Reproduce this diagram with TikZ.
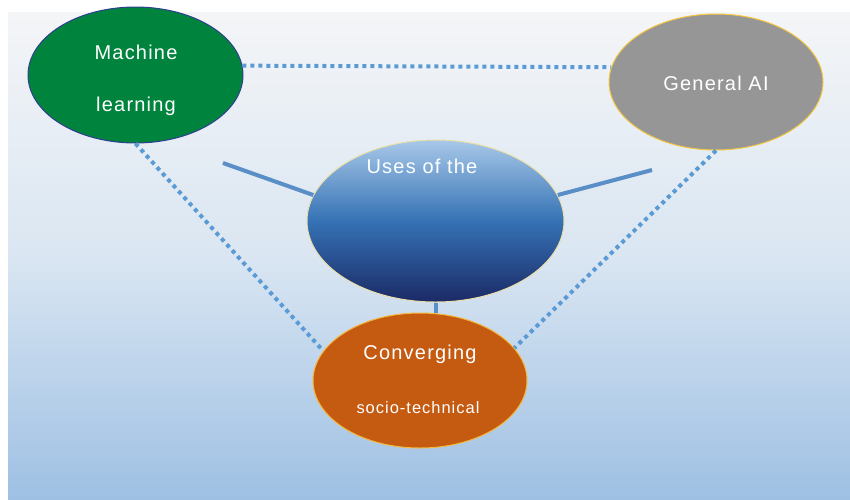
\documentclass[tikz,border=0pt]{standalone}
\usepackage{fontspec}
\setmainfont{Liberation Sans}[LetterSpace=6]
\usetikzlibrary{shapes.geometric}

\definecolor{bgtop}{HTML}{F4F5F7}
\definecolor{bgmid}{HTML}{DAE6F2}
\definecolor{bgbot}{HTML}{9EC0E3}
\definecolor{mlgreen}{HTML}{00843D}
\definecolor{mledge}{HTML}{2F3F8F}
\definecolor{gagray}{HTML}{969696}
\definecolor{gaedge}{HTML}{F5C842}
\definecolor{convorange}{HTML}{C55A11}
\definecolor{convedge}{HTML}{F5B83D}
\definecolor{usetop}{HTML}{A8C8E8}
\definecolor{usemid}{HTML}{3572B5}
\definecolor{usebot}{HTML}{1B2A66}
\definecolor{useedge}{HTML}{EADFA8}
\definecolor{linkblue}{HTML}{5B9BD5}
\definecolor{spokeblue}{HTML}{5A8EC6}

\tikzset{
  bubble/.style={ellipse, inner sep=0pt, line width=1pt},
  label text/.style={text=white, font=\fontsize{20}{22}\selectfont, inner sep=0pt},
  small text/.style={text=white, font=\fontsize{16.5}{18}\selectfont, inner sep=0pt},
  dotlink/.style={draw=linkblue, line width=4pt, dash pattern=on 4pt off 4pt},
  spoke/.style={draw=spokeblue, line width=4pt}
}

\begin{document}
\begin{tikzpicture}[x=1pt, y=-1pt]
  \useasboundingbox (0,0) rectangle (850,499);
  % backdrop panel
  \shade[top color=bgtop, bottom color=bgbot, middle color=bgmid]
    (8,12) rectangle (850,499);

  % bubbles
  \node[bubble, draw=mledge, fill=mlgreen, minimum width=215pt, minimum height=136pt] (ml) at (135.5,75) {};
  \node[bubble, draw=gaedge, fill=gagray, minimum width=214pt, minimum height=136pt] (ga) at (716,82) {};
  \node[bubble, draw=useedge, top color=usetop, bottom color=usebot, middle color=usemid,
        minimum width=257pt, minimum height=162pt] (uses) at (435.5,221) {};
  \node[bubble, draw=convedge, fill=convorange, minimum width=214pt, minimum height=135pt] (conv) at (420,380.5) {};

  % dotted links between the outer bubbles
  \draw[dotlink] (ml.5) -- (ga.172);
  \draw[dotlink] (ml.south) -- (conv.163);
  \draw[dotlink] (ga.south) -- (conv.19);

  % spokes from the central bubble
  \coordinate (leftend) at (223,163);
  \coordinate (rightend) at (652,170);
  \draw[spoke] (leftend) -- (uses.168);
  \draw[spoke] (rightend) -- (uses.12);
  \draw[spoke] (uses.south) -- (uses.south |- conv.north);

  % bubble texts
  \node[label text] (mlA) at (136,52) {Machine};
  \node[label text] (mlB) at (136,106) {learning};
  \node[label text] (gaT) at (716,83) {General AI};
  \node[label text] (usesT) at (422,166) {Uses of the};
  \node[label text] (convA) at (420,354) {Converging};
  \node[small text] (convB) at (418,408) {socio-technical};
\end{tikzpicture}
\end{document}
